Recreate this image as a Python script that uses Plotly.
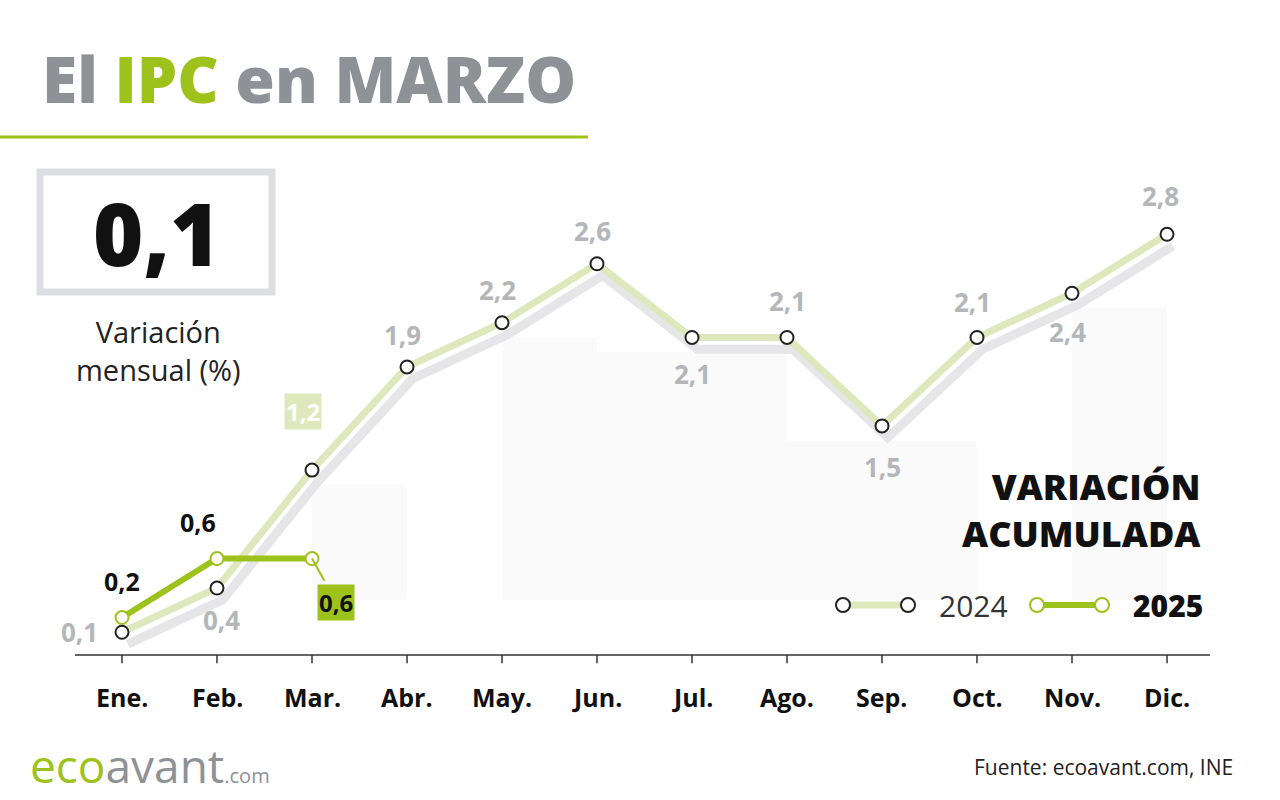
import plotly.graph_objects as go

months = ["Ene.","Feb.","Mar.","Abr.","May.","Jun.","Jul.","Ago.","Sep.","Oct.","Nov.","Dic."]
v2024 = [0.1,0.4,1.2,1.9,2.2,2.6,2.1,2.1,1.5,2.1,2.4,2.8]
v2025 = [0.2,0.6,0.6]
lbl2024 = ["0,1","0,4","1,2","1,9","2,2","2,6","2,1","2,1","1,5","2,1","2,4","2,8"]
lbl2025 = ["0,2","0,6","0,6"]
monthly = "0,1"

GREEN = "#9dc21b"; LGREEN = "#dfe8bd"; GRAY = "#8e9196"; LGRAY = "#b4b6b9"
x = list(range(12))
fig = go.Figure()

for i in [2,4,5,6,7,8,10]:
    fig.add_shape(type="rect", x0=i, x1=i+1, y0=0.32, y1=min(v2024[i], v2024[i+1]) - 0.1, xref="x", yref="y",
                  fillcolor="rgba(200,200,205,0.09)", line_width=0, layer="below")
fig.add_trace(go.Scatter(x=[i+0.06 for i in x], y=[v-0.08 for v in v2024], mode="lines",
                         line=dict(color="#e6e6e8", width=9), hoverinfo="skip"))
fig.add_trace(go.Scatter(x=x, y=v2024, mode="lines+markers", line=dict(color=LGREEN, width=7),
                         marker=dict(size=13, color="white", line=dict(color="#222", width=2)), hoverinfo="skip"))
fig.add_trace(go.Scatter(x=x[:3], y=v2025, mode="lines+markers", line=dict(color=GREEN, width=6),
                         marker=dict(size=13, color="white", line=dict(color=GREEN, width=2)), hoverinfo="skip"))

pos = {0:(-0.45,0.0),1:(0.05,-0.22),3:(-0.05,0.22),4:(-0.05,0.22),5:(-0.05,0.22),6:(0,-0.25),7:(0,0.25),
       8:(0,-0.28),9:(-0.05,0.24),10:(-0.05,-0.26),11:(-0.07,0.26)}
for i,(dx,dy) in pos.items():
    fig.add_annotation(x=i+dx, y=v2024[i]+dy, text=lbl2024[i], showarrow=False,
                       font=dict(family="Open Sans", size=26, color=LGRAY, weight=700))
fig.add_annotation(x=1.9, y=1.6, text=lbl2024[2], showarrow=False, bgcolor=LGREEN,
                   font=dict(family="Open Sans", size=24, color="white", weight=700))
for i,(dx,dy) in enumerate([(0,0.25),(-0.2,0.25)]):
    fig.add_annotation(x=i+dx, y=v2025[i]+dy, text=lbl2025[i], showarrow=False,
                       font=dict(family="Open Sans", size=25, color="#111", weight=700))
fig.add_annotation(x=2.25, y=0.3, text=lbl2025[2], showarrow=False, bgcolor=GREEN,
                   font=dict(family="Open Sans", size=24, color="#111", weight=700))
fig.add_shape(type="line", x0=2, y0=0.6, x1=2.13, y1=0.45, line=dict(color=GREEN, width=2))

for i,m in enumerate(months):
    fig.add_annotation(x=i, y=-0.34, text=m, showarrow=False,
                       font=dict(family="Open Sans", size=25, color="#111", weight=700))
fig.add_shape(type="line", xref="paper", yref="y", x0=75/1280, x1=1210/1280, y0=-0.055, y1=-0.055,
              line=dict(color="#333", width=1.5))
for i in x:
    fig.add_shape(type="line", x0=i, x1=i, y0=-0.055, y1=-0.11, line=dict(color="#333", width=1.5))

P = dict(xref="paper", yref="paper", showarrow=False, yanchor="middle")
fig.add_annotation(x=40/1280, y=1-78/800, xanchor="left", text=
    f"<span style='color:{GRAY}'>El </span><span style='color:{GREEN}'>IPC</span><span style='color:{GRAY}'> en MARZO</span>",
    font=dict(family="Open Sans", size=64, weight=800), **P)
fig.add_shape(type="line", xref="paper", yref="paper", x0=0, x1=588/1280, y0=1-137/800, y1=1-137/800,
              line=dict(color=GREEN, width=3))
fig.add_shape(type="rect", xref="paper", yref="paper", x0=40/1280, x1=272/1280, y0=1-292/800, y1=1-172/800,
              line=dict(color="#dcdee1", width=7), fillcolor="white")
fig.add_annotation(x=156/1280, y=1-232/800, xanchor="center", text=monthly, font=dict(family="Open Sans", size=86, color="#111", weight=800), **P)
fig.add_annotation(x=158/1280, y=1-350/800, xanchor="center", text="Variación<br>mensual (%)", font=dict(family="Open Sans", size=29, color="#222"), **P)
fig.add_annotation(x=1203/1280, y=1-510/800, xanchor="right", align="right", text="VARIACIÓN<br>ACUMULADA",
                   font=dict(family="Open Sans", size=36, color="#111", weight=800), **P)
fig.add_shape(type="line", xref="paper", yref="paper", x0=843/1280, x1=908/1280, y0=1-605/800, y1=1-605/800, line=dict(color=LGREEN, width=7))
fig.add_shape(type="line", xref="paper", yref="paper", x0=1037/1280, x1=1102/1280, y0=1-605/800, y1=1-605/800, line=dict(color=GREEN, width=6))
for xx, c in [(843,"#222"),(908,"#222"),(1037,GREEN),(1102,GREEN)]:
    fig.add_shape(type="circle", xref="paper", yref="paper", x0=(xx-7)/1280, x1=(xx+7)/1280, y0=1-612/800, y1=1-598/800,
                  fillcolor="white", line=dict(color=c, width=2))
fig.add_annotation(x=973/1280, y=1-605/800, xanchor="center", text="2024", font=dict(family="Open Sans", size=30, color="#333"), **P)
fig.add_annotation(x=1168/1280, y=1-605/800, xanchor="center", text="2025", font=dict(family="Open Sans", size=30, color="#111", weight=800), **P)
fig.add_annotation(x=28/1280, y=1-765/800, xanchor="left", text=
    f"<span style='color:{GREEN};font-size:46px'>eco</span><span style='color:#8e9196;font-size:46px'>avant</span><span style='color:#8e9196;font-size:20px'>.com</span>",
    font=dict(family="Open Sans"), **P)
fig.add_annotation(x=1235/1280, y=1-767/800, xanchor="right", text="Fuente: ecoavant.com, INE",
                   font=dict(family="Open Sans", size=21, color="#222"), **P)

fig.update_layout(width=1280, height=800, margin=dict(l=0,r=0,t=0,b=0), showlegend=False,
                  plot_bgcolor="white", paper_bgcolor="white",
                  xaxis=dict(range=[-122/95, 1158/95], visible=False, fixedrange=True),
                  yaxis=dict(range=[-153/147.4, 647/147.4], visible=False, fixedrange=True))
fig.write_html("out.html", config={"displayModeBar": False},
               post_script="document.body.style.margin='0';document.body.style.overflow='hidden';")
